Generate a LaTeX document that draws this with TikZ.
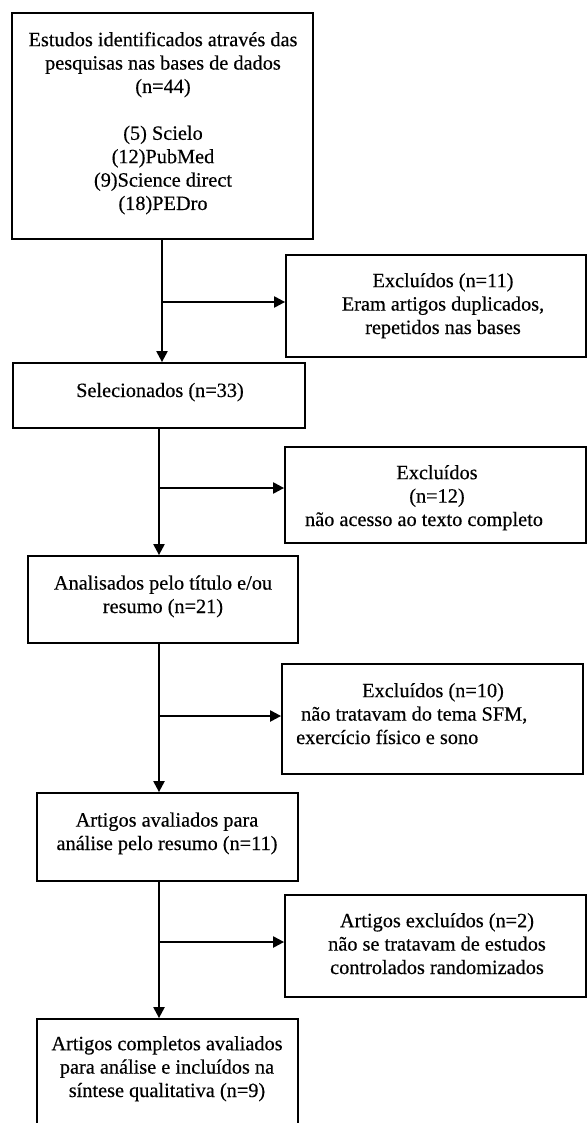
\documentclass[tikz,border=0pt]{standalone}
\usepackage{fontspec}
\setmainfont{Liberation Serif}[FakeBold=0.4]
\usetikzlibrary{arrows.meta}
\tikzset{
	box/.style={draw, line width=1.8pt, inner sep=0pt},
	txt/.style={align=center, inner sep=0pt, font=\fontsize{20.3}{23.4}\selectfont, anchor=base},
	arr/.style={line width=2.2pt, -{Triangle[length=11pt,width=11pt]}},
}

\begin{document}
\begin{tikzpicture}[x=1pt,y=-1pt]
				\clip (0,0) rectangle (587,1123);
				\fill[white] (0,0) rectangle (587,1123);
				
				\node[box, minimum width=301pt, minimum height=226pt] (ident) at (162.5,126) {};
				\node[txt] (identtxt) at (163,210) {Estudos identificados através das\\pesquisas nas bases de dados\\(n=44)\\[23.4pt](5) Scielo\\(12)PubMed\\(9)Science direct\\(18)PEDro};
				
				\node[box, minimum width=300pt, minimum height=102pt] (excl1) at (436,306) {};
				\node[txt] (excl1txt) at (443,334) {Excluídos (n=11)\\Eram artigos duplicados,\\repetidos nas bases};
				
				\node[box, minimum width=292pt, minimum height=65pt] (sel) at (159,395.5) {};
				\node[txt] (seltxt) at (160,397) {Selecionados (n=33)};
				
				\node[box, minimum width=301pt, minimum height=96pt] (excl2) at (435.5,495) {};
				\node[txt] (excl2txt) at (437,526) {Excluídos\\(n=12)\\não acesso ao texto completo\hspace*{26pt}};
				
				\node[box, minimum width=270pt, minimum height=87pt] (anal) at (163,599.5) {};
				\node[txt] (analtxt) at (163,613) {Analisados pelo título e/ou\\resumo (n=21)};
				
				\node[box, minimum width=301pt, minimum height=110pt] (excl3) at (432.5,719) {};
				\node[txt, align=left, anchor=base west] (excl3txt) at (296,744) {\hspace*{66pt}Excluídos (n=10)\\\hspace*{5pt}não tratavam do tema SFM,\\exercício físico e sono};
				
				\node[box, minimum width=261pt, minimum height=88pt] (aval) at (167.5,837) {};
				\node[txt] (avaltxt) at (167,850) {Artigos avaliados para\\análise pelo resumo (n=11)};
				
				\node[box, minimum width=301pt, minimum height=102pt] (excl4) at (435.5,946) {};
				\node[txt] (excl4txt) at (437,974) {Artigos excluídos (n=2)\\não se tratavam de estudos\\controlados randomizados};
				
				\node[box, minimum width=261pt, minimum height=121pt] (final) at (167.5,1079.5) {};
				\node[txt] (finaltxt) at (167,1097) {Artigos completos avaliados\\para análise e incluídos na\\síntese qualitativa (n=9)};
				
				\coordinate (ta) at (162,0);
				\coordinate (tb) at (159,0);
				
				\draw[arr] (ident.south -| ta) -- (sel.north -| ta);
				\draw[arr] ([yshift=4pt]excl1.west -| ta) -- ([yshift=4pt]excl1.west);
				
				\draw[arr] (sel.south -| tb) -- (anal.north -| tb);
				\draw[arr] ([yshift=7pt]excl2.west -| tb) -- ([yshift=7pt]excl2.west);
				
				\draw[arr] (anal.south -| tb) -- (aval.north -| tb);
				\draw[arr] ([yshift=3pt]excl3.west -| tb) -- ([yshift=3pt]excl3.west);
				
				\draw[arr] (aval.south -| tb) -- (final.north -| tb);
				\draw[arr] ([yshift=4pt]excl4.west -| tb) -- ([yshift=4pt]excl4.west);
			\end{tikzpicture}
\end{document}
